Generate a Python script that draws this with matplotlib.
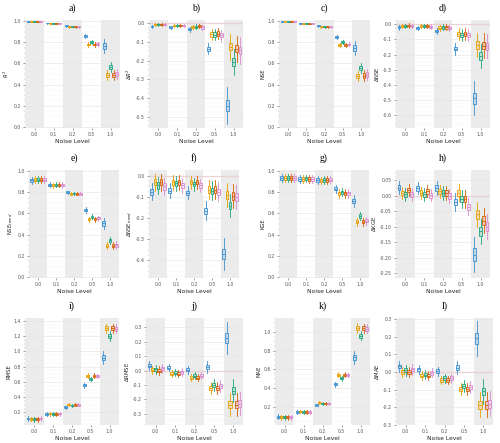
import matplotlib
matplotlib.use("Agg")
import matplotlib.pyplot as plt
from matplotlib.ticker import MultipleLocator, AutoMinorLocator

# noise levels on the x axis, five model variants per level
noise_levels = ["0.0", "0.1", "0.2", "0.5", "1.0"]
colors = ["#3a8fd0", "#e69f00", "#1ea57c", "#d55e00", "#d98bcc"]

# medians [noise][variant]
med_a = [[0.995, 0.995, 0.995, 0.995, 0.995], [0.98, 0.978, 0.978, 0.978, 0.978],
         [0.955, 0.945, 0.948, 0.945, 0.945], [0.86, 0.778, 0.80, 0.778, 0.785],
         [0.765, 0.49, 0.565, 0.49, 0.50]]
med_b = [[-0.015, -0.005, -0.005, -0.004, -0.005], [-0.02, -0.012, -0.012, -0.011, -0.012],
         [-0.032, -0.02, -0.018, -0.015, -0.022], [-0.136, -0.059, -0.06, -0.055, -0.063],
         [-0.44, -0.125, -0.207, -0.135, -0.145]]
med_c = [[0.995, 0.995, 0.995, 0.995, 0.995], [0.978, 0.976, 0.977, 0.976, 0.977],
         [0.955, 0.945, 0.947, 0.945, 0.945], [0.85, 0.775, 0.80, 0.775, 0.78],
         [0.745, 0.48, 0.555, 0.485, 0.495]]
med_d = [[-0.02, -0.01, -0.012, -0.008, -0.012], [-0.025, -0.012, -0.012, -0.012, -0.015],
         [-0.045, -0.022, -0.02, -0.02, -0.025], [-0.16, -0.065, -0.07, -0.065, -0.07],
         [-0.49, -0.135, -0.21, -0.14, -0.145]]
med_e = [[0.913, 0.92, 0.92, 0.92, 0.92], [0.87, 0.865, 0.87, 0.87, 0.868],
         [0.80, 0.785, 0.79, 0.785, 0.785], [0.632, 0.545, 0.57, 0.545, 0.553],
         [0.505, 0.295, 0.346, 0.295, 0.30]]
med_f = [[-0.075, -0.03, -0.045, -0.03, -0.05], [-0.07, -0.03, -0.035, -0.03, -0.045],
         [-0.08, -0.03, -0.04, -0.03, -0.045], [-0.165, -0.065, -0.07, -0.065, -0.075],
         [-0.37, -0.09, -0.14, -0.095, -0.10]]
med_g = [[0.935, 0.935, 0.935, 0.935, 0.935], [0.925, 0.925, 0.93, 0.925, 0.925],
         [0.915, 0.91, 0.915, 0.915, 0.92], [0.833, 0.79, 0.80, 0.79, 0.79],
         [0.715, 0.52, 0.575, 0.52, 0.53]]
med_h = [[0.027, 0.01, 0.005, 0.02, 0.005], [0.025, 0.01, 0.005, 0.015, 0.002],
         [0.025, 0.015, 0.01, 0.01, 0.0], [-0.02, 0.01, -0.01, -0.01, -0.035],
         [-0.19, -0.06, -0.115, -0.08, -0.10]]
med_i = [[0.12, 0.115, 0.11, 0.11, 0.12], [0.178, 0.185, 0.18, 0.18, 0.185],
         [0.271, 0.302, 0.29, 0.30, 0.30], [0.556, 0.68, 0.64, 0.68, 0.675],
         [0.916, 1.30, 1.20, 1.30, 1.295]]
med_j = [[0.035, 0.005, 0.01, 0.0, 0.015], [0.02, -0.02, -0.015, -0.02, -0.01],
         [0.005, -0.05, -0.035, -0.05, -0.035], [0.025, -0.12, -0.10, -0.12, -0.105],
         [0.226, -0.235, -0.14, -0.235, -0.23]]
med_k = [[0.096, 0.09, 0.09, 0.09, 0.09], [0.146, 0.15, 0.145, 0.145, 0.148],
         [0.221, 0.245, 0.235, 0.24, 0.24], [0.443, 0.545, 0.507, 0.545, 0.54],
         [0.729, 1.045, 0.96, 1.04, 1.035]]
med_l = [[0.032, 0.0, 0.01, 0.0, 0.015], [0.015, -0.02, -0.015, -0.02, -0.005],
         [0.005, -0.045, -0.035, -0.045, -0.035], [0.025, -0.095, -0.08, -0.095, -0.085],
         [0.19, -0.185, -0.11, -0.185, -0.18]]

# half box height and whisker reach per noise level
box_a = [0.002, 0.003, 0.004, 0.008, 0.02]
wh_a = [0.004, 0.006, 0.008, 0.02, 0.05]
box_b = [0.003, 0.004, 0.006, 0.012, 0.02]
wh_b = [0.008, 0.008, 0.012, 0.03, 0.07]
box_d = [0.006, 0.006, 0.008, 0.012, 0.025]
wh_d = [0.015, 0.015, 0.02, 0.04, 0.08]
box_e = [0.015, 0.01, 0.007, 0.01, 0.015]
wh_e = [0.035, 0.025, 0.015, 0.025, 0.035]
box_f = [0.015, 0.012, 0.01, 0.015, 0.018]
wh_f = [0.04, 0.035, 0.03, 0.045, 0.055]
box_g = [0.015, 0.015, 0.015, 0.015, 0.015]
wh_g = [0.035, 0.035, 0.035, 0.04, 0.04]
box_h = [0.007, 0.008, 0.009, 0.01, 0.015]
wh_h = [0.02, 0.02, 0.022, 0.028, 0.04]
box_i = [0.012, 0.01, 0.01, 0.012, 0.025]
wh_i = [0.03, 0.025, 0.02, 0.03, 0.06]
box_j = [0.01, 0.01, 0.01, 0.015, 0.025]
wh_j = [0.03, 0.025, 0.025, 0.04, 0.08]
box_k = [0.01, 0.008, 0.006, 0.01, 0.02]
wh_k = [0.025, 0.02, 0.015, 0.025, 0.05]
box_l = [0.01, 0.01, 0.01, 0.013, 0.022]
wh_l = [0.03, 0.025, 0.025, 0.035, 0.07]

# (tag, ylabel, medians, box, whisker, ylim, major step, is delta, px box left/top/right/bottom)
panels = [
    ("a)", "$R^2$", med_a, box_a, wh_a, (-0.01, 1.01), 0.2, False, (25, 20, 120, 128)),
    ("b)", "$\\Delta R^2$", med_b, box_b, wh_b, (-0.56, 0.018), 0.1, True, (149, 20, 243, 128)),
    ("c)", "NSE", med_c, box_a, wh_a, (-0.01, 1.01), 0.2, False, (279, 20, 370, 128)),
    ("d)", "$\\Delta$NSE", med_d, box_d, wh_d, (-0.686, 0.029), 0.1, True, (396, 20, 490, 128)),
    ("e)", "NSE$_{trend}$", med_e, box_e, wh_e, (-0.01, 1.01), 0.2, False, (29, 170, 119, 278)),
    ("f)", "$\\Delta$NSE$_{trend}$", med_f, box_f, wh_f, (-0.483, 0.028), 0.1, True, (149, 170, 239, 278)),
    ("g)", "KGE", med_g, box_g, wh_g, (-0.01, 1.01), 0.2, False, (279, 170, 369, 278)),
    ("h)", "$\\Delta$KGE", med_h, box_h, wh_h, (-0.266, 0.084), 0.05, True, (396, 170, 490, 278)),
    ("i)", "RMSE", med_i, box_i, wh_i, (0.036, 1.436), 0.2, False, (25, 318, 119, 425)),
    ("j)", "$\\Delta$RMSE", med_j, box_j, wh_j, (-0.377, 0.365), 0.1, True, (146, 318, 243, 425)),
    ("k)", "MAE", med_k, box_k, wh_k, (0.007, 1.15), 0.2, False, (275, 318, 370, 425)),
    ("l)", "$\\Delta$MAE", med_l, box_l, wh_l, (-0.3, 0.306), 0.1, True, (396, 318, 493, 425)),
]

W, H = 500, 443
fig = plt.figure(figsize=(W / 100, H / 100), dpi=100)
offsets = [-0.34, -0.17, 0.0, 0.17, 0.34]

for tag, ylab, med, box, wh, ylim, step, delta, (x0, y0, x1, y1) in panels:
    ax = fig.add_axes([x0 / W, 1 - y1 / H, (x1 - x0) / W, (y1 - y0) / H])
    for k in (1, 3, 5):
        ax.axvspan(k - 0.5, k + 0.5, color="#ebebeb", zorder=0, lw=0)
    ax.grid(axis="y", which="major", color="#e8e8e8", lw=0.5, zorder=0.5)
    ax.grid(axis="y", which="minor", color="#f3f3f3", lw=0.3, zorder=0.5)
    if delta:
        ax.axhline(0, color="#f2a0a0", lw=0.8, zorder=1)

    for s in range(5):
        stats, pos = [], []
        for n in range(5):
            m = med[n][s]
            b = box[n] * (1.4 if s == 0 and n == 4 else 1.0)
            w = wh[n] * (1.4 if s == 0 and n == 4 else 1.0)
            stats.append(dict(med=m, q1=m - b, q3=m + b, whislo=m - w, whishi=m + w, fliers=[]))
            pos.append(n + 1 + offsets[s])
        c = colors[s]
        bp = ax.bxp(stats, positions=pos, widths=0.155, patch_artist=True, showcaps=False,
                    showfliers=False,
                    boxprops=dict(edgecolor=c, linewidth=0.6),
                    medianprops=dict(color=c, linewidth=0.6),
                    whiskerprops=dict(color=c, linewidth=0.6))
        for p in bp["boxes"]:
            p.set_facecolor(matplotlib.colors.to_rgba(c, 0.22))
            p.set_zorder(2)

    ax.set_xlim(0.5, 5.5)
    ax.set_ylim(*ylim)
    ax.set_xticks(range(1, 6))
    ax.set_xticklabels(noise_levels)
    ax.yaxis.set_major_locator(MultipleLocator(step))
    ax.yaxis.set_minor_locator(AutoMinorLocator(4))
    if step == 0.05:
        ax.yaxis.set_major_formatter(matplotlib.ticker.FormatStrFormatter("%.2f"))
    else:
        ax.yaxis.set_major_formatter(matplotlib.ticker.FormatStrFormatter("%.1f"))
    for sp in ax.spines.values():
        sp.set_visible(False)
    ax.tick_params(axis="both", which="major", labelsize=3.3, length=1.5, width=0.4,
                   colors="#555555", pad=1.5)
    ax.tick_params(axis="y", which="minor", length=1, width=0.3, colors="#999999")
    ax.set_xlabel("Noise Level", fontsize=4.3, labelpad=1.5, color="#222222")
    ax.set_ylabel(ylab, fontsize=3.8, labelpad=1.5, color="#222222")
    ax.set_title(tag, fontsize=7, family="Liberation Serif", pad=7)

fig.savefig("out.png", dpi=100)
